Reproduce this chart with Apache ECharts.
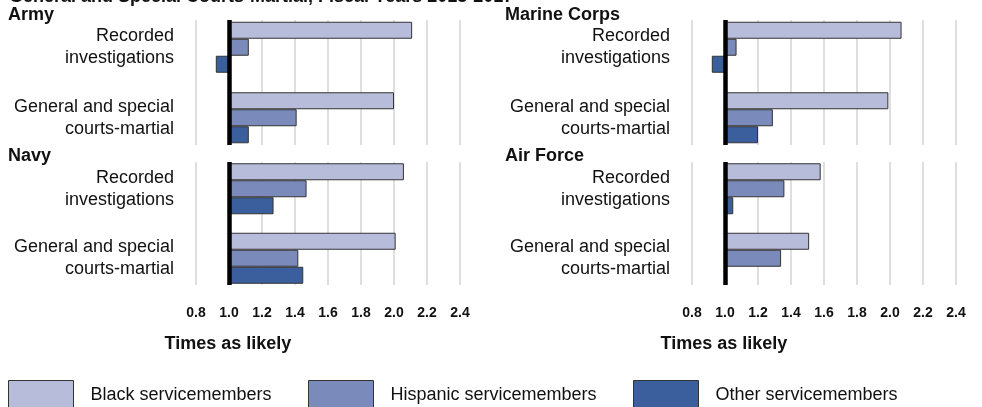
<!DOCTYPE html>
<html>
<head>
<meta charset="utf-8">
<script src="https://cdn.jsdelivr.net/npm/echarts@6/dist/echarts.min.js"></script>
<style>
  html, body { margin: 0; padding: 0; background: #fff; }
  #chart { width: 982px; height: 407px; }
</style>
</head>
<body>
<div id="chart"></div>
<script>
// categories and series
const categories = ['Recorded\ninvestigations', 'General and special\ncourts-martial'];
const panelNames = ['Army', 'Marine Corps', 'Navy', 'Air Force'];
const groupNames = ['Black servicemembers', 'Hispanic servicemembers', 'Other servicemembers'];

// times as likely (ratio)
const armyBlack = [2.11, 2.00];
const armyHispanic = [1.12, 1.41];
const armyOther = [0.92, 1.12];
const marineBlack = [2.07, 1.99];
const marineHispanic = [1.07, 1.29];
const marineOther = [0.92, 1.20];
const navyBlack = [2.06, 2.01];
const navyHispanic = [1.47, 1.42];
const navyOther = [1.27, 1.45];
const airForceBlack = [1.58, 1.51];
const airForceHispanic = [1.36, 1.34];
const airForceOther = [1.05, null];

// bars grow from 1.0 (equal likelihood)
const BASELINE = 1.0;
const AXIS_MIN = 0.8;
const AXIS_MAX = 2.4;
const AXIS_STEP = 0.2;

const panelData = [
  [armyBlack, armyHispanic, armyOther],
  [marineBlack, marineHispanic, marineOther],
  [navyBlack, navyHispanic, navyOther],
  [airForceBlack, airForceHispanic, airForceOther],
];

const colors = ['#B8BCDB', '#7A8BBB', '#3A5F9C'];
const FONT = '"Liberation Sans", Arial, sans-serif';

// plot area of each panel (gridlines span this box)
const boxes = [
  { left: 196, top: 20, height: 125 },
  { left: 692, top: 20, height: 125 },
  { left: 196, top: 162, height: 123 },
  { left: 692, top: 162, height: 123 },
];
const BOX_W = 264;

const shift = (v) => (v == null ? null : +(v - BASELINE).toFixed(4));
const xMin = +(AXIS_MIN - BASELINE).toFixed(4);
const xMax = +(AXIS_MAX - BASELINE).toFixed(4);

const grid = [];
const xAxis = [];
const yAxis = [];
const series = [];

// grids 0-3: bars ; grids 4-7: gridlines + baseline
boxes.forEach((b) => {
  grid.push({ left: b.left, width: BOX_W, top: b.top - 8, height: b.height + 16 });
});
boxes.forEach((b) => {
  grid.push({ left: b.left, width: BOX_W, top: b.top, height: b.height });
});

boxes.forEach((b, i) => {
  xAxis.push({
    gridIndex: i, type: 'value', min: xMin, max: xMax, show: false,
  });
  yAxis.push({
    gridIndex: i,
    type: 'category',
    inverse: true,
    data: categories,
    axisLine: { show: false, onZero: false },
    axisTick: { show: false },
    splitLine: { show: false },
    axisLabel: {
      margin: 22,
      fontSize: 18,
      lineHeight: 22,
      color: '#111',
      fontFamily: FONT,
      align: 'right',
    },
  });
  panelData[i].forEach((vals, k) => {
    series.push({
      type: 'bar',
      name: groupNames[k],
      xAxisIndex: i,
      yAxisIndex: i,
      data: vals.map(shift),
      barWidth: 17,
      barGap: '0%',
      itemStyle: { color: colors[k], borderColor: '#333', borderWidth: 1 },
      silent: true,
      animation: false,
    });
  });
});

boxes.forEach((b, i) => {
  const bottomRow = i >= 2;
  xAxis.push({
    gridIndex: 4 + i,
    type: 'value',
    min: xMin,
    max: xMax,
    interval: AXIS_STEP,
    axisLine: { show: false, onZero: false },
    axisTick: { show: false },
    splitLine: { show: true, lineStyle: { color: '#D4D4D4', width: 1.5 } },
    axisLabel: {
      show: bottomRow,
      margin: 21,
      fontSize: 14,
      fontWeight: 'bold',
      color: '#111',
      fontFamily: FONT,
      formatter: (v) => (v + BASELINE).toFixed(1),
    },
  });
  yAxis.push({
    gridIndex: 4 + i,
    type: 'value',
    min: 0,
    max: 1,
    z: 10,
    axisLine: { show: true, onZero: true, lineStyle: { color: '#000', width: 4.5, cap: 'butt' } },
    axisTick: { show: false },
    axisLabel: { show: false },
    splitLine: { show: false },
  });
});

const legend = groupNames.map((name, i) => ({
  data: [name],
  left: [8, 308, 633][i],
  top: 380,
  padding: 0,
  icon: 'rect',
  itemWidth: 65,
  itemHeight: 30,
  selectedMode: false,
  itemStyle: { borderColor: '#333', borderWidth: 1 },
  textStyle: { fontSize: 18, fontFamily: FONT, color: '#111', padding: [0, 0, 0, 12] },
}));

const textEl = (text, left, top, size, bold, align) => ({
  type: 'text',
  left: align === 'center' ? undefined : left,
  x: align === 'center' ? left : undefined,
  top: top,
  style: {
    text: text,
    font: (bold ? 'bold ' : '') + size + 'px ' + FONT,
    fill: '#111',
    textAlign: align || 'left',
  },
});

const graphic = [
  textEl('General and Special Courts-Martial, Fiscal Years 2013-2017', 9, -12, 18, true),
  textEl(panelNames[0], 8, 6, 18, true),
  textEl(panelNames[1], 505, 6, 18, true),
  textEl(panelNames[2], 8, 147, 18, true),
  textEl(panelNames[3], 505, 147, 18, true),
  textEl('Times as likely', 228, 335, 18, true, 'center'),
  textEl('Times as likely', 724, 335, 18, true, 'center'),
];

const chart = echarts.init(document.getElementById('chart'), null, { renderer: 'canvas' });
chart.setOption({
  animation: false,
  backgroundColor: '#fff',
  grid: grid,
  xAxis: xAxis,
  yAxis: yAxis,
  legend: legend,
  series: series,
  graphic: graphic,
});
</script>
</body>
</html>
